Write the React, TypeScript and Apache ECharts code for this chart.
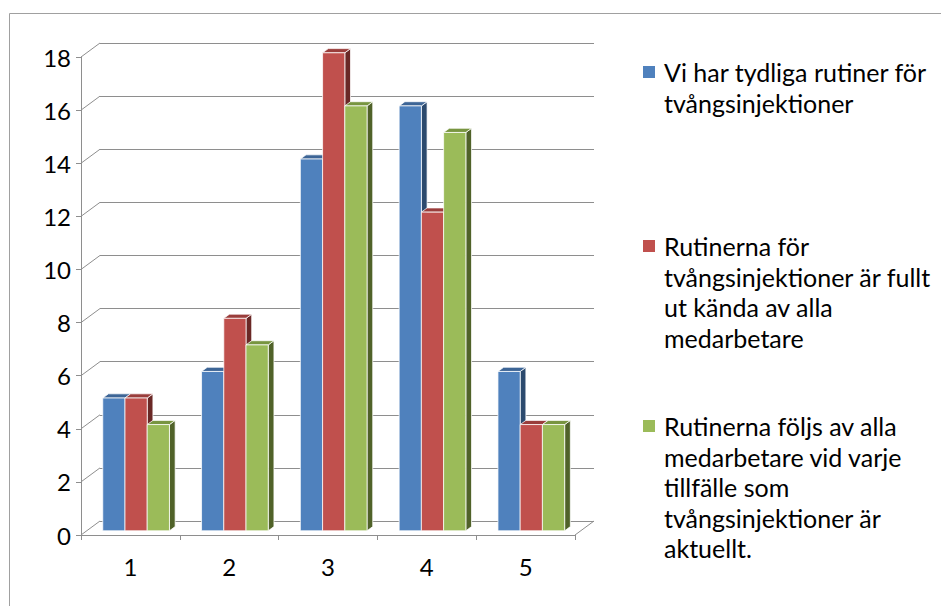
import React, { useEffect, useRef } from "react";
import * as echarts from "echarts";

// Categories along the x axis
const categories = ["1", "2", "3", "4", "5"];

// Value axis ticks
const valueTicks = [0, 2, 4, 6, 8, 10, 12, 14, 16, 18];

// Series names
const seriesNames = [
  "Vi har tydliga rutiner för tvångsinjektioner",
  "Rutinerna för tvångsinjektioner är fullt ut kända av alla medarbetare",
  "Rutinerna följs av alla medarbetare vid varje tillfälle som tvångsinjektioner är aktuellt.",
];

// Legend text, wrapped as it is shown
const legendLines = [
  ["Vi har tydliga rutiner för", "tvångsinjektioner"],
  ["Rutinerna för", "tvångsinjektioner är fullt", "ut kända av alla", "medarbetare"],
  ["Rutinerna följs av alla", "medarbetare vid varje", "tillfälle som", "tvångsinjektioner är", "aktuellt."],
];

// Series values
const clearRoutines = [5, 6, 14, 16, 6];
const knownByAll = [5, 8, 18, 12, 4];
const followedByAll = [4, 7, 16, 15, 4];
const seriesValues = [clearRoutines, knownByAll, followedByAll];

// Face colours: front, top, side
const frontColors = ["#4F81BD", "#C0504D", "#9BBB59"];
const topColors = ["#3D6596", "#9A3D3B", "#789540"];
const sideColors = ["#2C4A6E", "#6A2826", "#506229"];

// Layout of the 3D frame
const FRONT = { left: 81, top: 57, width: 494, height: 478 };
const DEPTH_X = 19;
const DEPTH_Y = 14;
const BAR_FRONT = 0.3; // where the bar's front face sits within the depth
const BAR_DEPTH = 0.3; // bar depth as a fraction of the frame depth
const BAR_WIDTH = 0.225; // fraction of a category's width
const GRID_COLOR = "#8E8E8E";
const FONT = "Lato, 'Noto Sans', sans-serif";
const AXIS_FONT_SIZE = 24;
const LEGEND_FONT_SIZE = 25;
const LEGEND_LINE = 30.5;
const LEGEND_ICON = 12;
const LEGEND_ICON_TOPS = [66, 240, 420];

export default function App() {
  const ref = useRef<HTMLDivElement>(null);

  useEffect(() => {
    if (!ref.current) return;
    const chart = echarts.init(ref.current, undefined, { renderer: "svg" });

    const frameEdges = {
      type: "custom",
      xAxisIndex: 0,
      yAxisIndex: 0,
      silent: true,
      z: 1,
      encode: { x: 0, y: 1 },
      data: valueTicks.map((v) => [0, v]),
      renderItem: (params: any, api: any) => {
        const cs = params.coordSys;
        const v = api.value(1);
        const y = api.coord([0, v])[1];
        const style = { stroke: GRID_COLOR, lineWidth: 1 };
        const children: any[] = [
          {
            type: "line",
            shape: { x1: cs.x, y1: y, x2: cs.x + DEPTH_X, y2: y - DEPTH_Y },
            style,
          },
        ];
        if (v === valueTicks[0]) {
          children.push({
            type: "line",
            shape: {
              x1: cs.x + cs.width,
              y1: y,
              x2: cs.x + cs.width + DEPTH_X,
              y2: y - DEPTH_Y,
            },
            style,
          });
        }
        return { type: "group", children };
      },
    };

    const barSeries = seriesValues.map((values, si) => ({
      type: "custom",
      name: seriesNames[si],
      xAxisIndex: 0,
      yAxisIndex: 0,
      z: 3 + si,
      encode: { x: 0, y: 1 },
      itemStyle: { color: frontColors[si] },
      data: values.map((v, c) => [c, v]),
      renderItem: (params: any, api: any) => {
        const cat = api.value(0);
        const val = api.value(1);
        const base = api.coord([cat, 0]);
        const top = api.coord([cat, val]);
        const catW = api.size([1, 0])[0];
        const barW = catW * BAR_WIDTH;
        const groupW = barW * seriesValues.length;
        const fx = base[0] - groupW / 2 + si * barW + DEPTH_X * BAR_FRONT;
        const fy0 = base[1] - DEPTH_Y * BAR_FRONT;
        const fy1 = top[1] - DEPTH_Y * BAR_FRONT;
        const dx = DEPTH_X * BAR_DEPTH;
        const dy = DEPTH_Y * BAR_DEPTH;
        const edge = { stroke: "rgba(255,255,255,0.75)", lineWidth: 1 };
        return {
          type: "group",
          children: [
            {
              type: "polygon",
              shape: {
                points: [
                  [fx + barW, fy1],
                  [fx + barW + dx, fy1 - dy],
                  [fx + barW + dx, fy0 - dy],
                  [fx + barW, fy0],
                ],
              },
              style: { fill: sideColors[si], ...edge },
            },
            {
              type: "polygon",
              shape: {
                points: [
                  [fx, fy1],
                  [fx + barW, fy1],
                  [fx + barW + dx, fy1 - dy],
                  [fx + dx, fy1 - dy],
                ],
              },
              style: { fill: topColors[si], ...edge },
            },
            {
              type: "rect",
              shape: { x: fx, y: fy1, width: barW, height: fy0 - fy1 },
              style: { fill: frontColors[si], ...edge },
            },
          ],
        };
      },
    }));

    // Each legend entry is its own legend so the entries can sit at their own heights.
    // Leading blank lines keep the first text line level with the square marker,
    // since the legend centres its text block on the marker.
    const legends = legendLines.map((lines, i) => {
      const n = lines.length;
      const blockH = (2 * n - 1) * LEGEND_LINE;
      return {
        data: [seriesNames[i]],
        orient: "vertical",
        left: 643,
        top: LEGEND_ICON_TOPS[i] + LEGEND_ICON / 2 - blockH / 2,
        padding: 0,
        icon: "rect",
        itemWidth: LEGEND_ICON,
        itemHeight: LEGEND_ICON,
        selectedMode: false,
        formatter: () => "\n".repeat(n - 1) + lines.join("\n"),
        textStyle: {
          fontFamily: FONT,
          fontSize: LEGEND_FONT_SIZE,
          lineHeight: LEGEND_LINE,
          color: "#000",
          padding: [0, 0, 0, 4],
        },
      };
    });

    chart.setOption({
      animation: false,
      backgroundColor: "#fff",
      textStyle: { fontFamily: FONT },
      graphic: [
        {
          type: "rect",
          silent: true,
          shape: { x: 9.5, y: 13.5, width: 940, height: 600 },
          style: { fill: "none", stroke: "#A0A0A0", lineWidth: 1 },
        },
      ],
      grid: [
        { ...FRONT },
        {
          left: FRONT.left + DEPTH_X,
          top: FRONT.top - DEPTH_Y,
          width: FRONT.width,
          height: FRONT.height,
        },
      ],
      xAxis: [
        {
          gridIndex: 0,
          type: "category",
          data: categories,
          boundaryGap: true,
          axisLine: { lineStyle: { color: GRID_COLOR, width: 1 } },
          axisTick: { show: true, length: 5, lineStyle: { color: GRID_COLOR } },
          axisLabel: { color: "#000", fontSize: AXIS_FONT_SIZE, fontFamily: FONT, margin: 19 },
        },
        {
          gridIndex: 1,
          type: "category",
          data: categories,
          show: false,
        },
      ],
      yAxis: [
        {
          gridIndex: 0,
          type: "value",
          min: valueTicks[0],
          max: valueTicks[valueTicks.length - 1],
          interval: valueTicks[1] - valueTicks[0],
          axisLine: { show: true, lineStyle: { color: GRID_COLOR, width: 1 } },
          axisTick: { show: true, length: 5, lineStyle: { color: GRID_COLOR } },
          axisLabel: { color: "#000", fontSize: AXIS_FONT_SIZE, fontFamily: FONT, margin: 10 },
          splitLine: { show: false },
        },
        {
          gridIndex: 1,
          type: "value",
          min: valueTicks[0],
          max: valueTicks[valueTicks.length - 1],
          interval: valueTicks[1] - valueTicks[0],
          axisLine: { show: false },
          axisTick: { show: false },
          axisLabel: { show: false },
          splitLine: { show: true, lineStyle: { color: GRID_COLOR, width: 1 } },
        },
      ],
      legend: legends,
      series: [frameEdges, ...barSeries],
    });

    return () => chart.dispose();
  }, []);

  return (
    <div
      ref={ref}
      style={{ position: "fixed", left: 0, top: 0, width: 941, height: 606, background: "#fff" }}
    />
  );
}
